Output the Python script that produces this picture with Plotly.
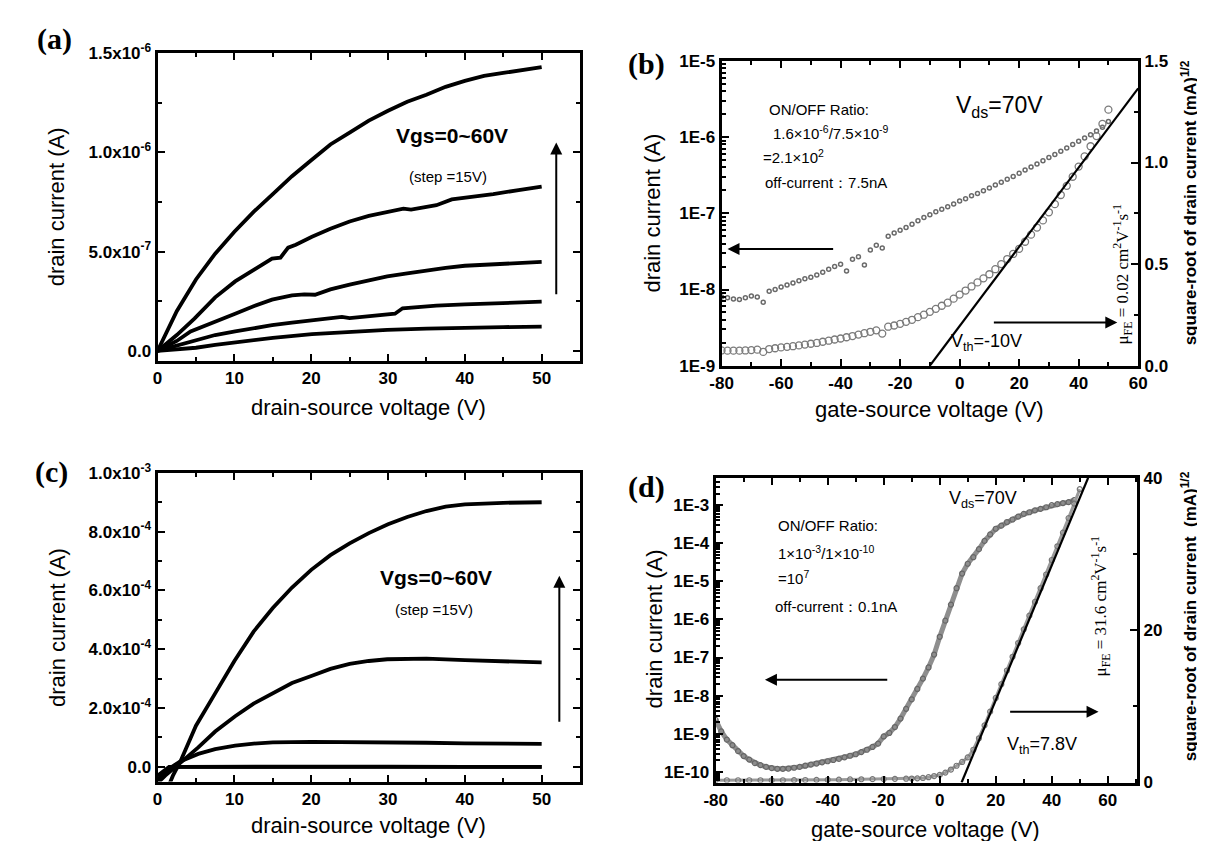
import plotly.graph_objects as go

# ---------------- Panel (a): output curves, Vgs = 0..60 V ----------------
a60_x = [0, 1, 2.5, 5, 7.5, 10, 12.5, 15, 17.5, 20, 22.5, 25, 27.5, 30, 32.5, 35, 37.5, 40, 42.5, 45, 47.5, 50]
a60_y = [0, 0.08e-6, 0.2e-6, 0.36e-6, 0.49e-6, 0.60e-6, 0.70e-6, 0.79e-6, 0.88e-6, 0.96e-6, 1.04e-6, 1.10e-6,
         1.16e-6, 1.21e-6, 1.255e-6, 1.29e-6, 1.33e-6, 1.36e-6, 1.385e-6, 1.40e-6, 1.415e-6, 1.43e-6]
a45_x = [0, 2.5, 4.8, 7.5, 10.1, 12.5, 14.9, 16, 17, 18, 20.1, 22.5, 25, 27.5, 29.9, 32, 33, 34, 36.3, 38.3, 40, 43.7, 47, 50]
a45_y = [0, 0.08e-6, 0.163e-6, 0.27e-6, 0.35e-6, 0.41e-6, 0.465e-6, 0.47e-6, 0.52e-6, 0.535e-6, 0.575e-6, 0.615e-6,
         0.652e-6, 0.68e-6, 0.70e-6, 0.717e-6, 0.712e-6, 0.72e-6, 0.734e-6, 0.763e-6, 0.77e-6, 0.79e-6, 0.81e-6, 0.828e-6]
a30_x = [0, 2.5, 4.3, 7.5, 10.1, 12.5, 14.9, 17.5, 19.1, 20.5, 22.5, 25, 27.5, 29.9, 32.5, 34.8, 37.5, 40, 45, 50]
a30_y = [0, 0.05e-6, 0.098e-6, 0.15e-6, 0.1875e-6, 0.225e-6, 0.258e-6, 0.28e-6, 0.285e-6, 0.283e-6, 0.31e-6,
         0.334e-6, 0.355e-6, 0.375e-6, 0.39e-6, 0.404e-6, 0.418e-6, 0.429e-6, 0.44e-6, 0.448e-6]
a15_x = [0, 2.5, 4.8, 7.5, 10.1, 12.5, 14.9, 17.5, 20.1, 22.5, 24, 25, 27.5, 30.9, 31.9, 34, 36.3, 40, 43.7, 47, 50]
a15_y = [0, 0.025e-6, 0.052e-6, 0.08e-6, 0.098e-6, 0.115e-6, 0.13e-6, 0.143e-6, 0.155e-6, 0.165e-6, 0.171e-6,
         0.165e-6, 0.175e-6, 0.1875e-6, 0.215e-6, 0.222e-6, 0.228e-6, 0.234e-6, 0.24e-6, 0.244e-6, 0.248e-6]
a0_x = [0, 2.5, 5, 7.5, 10.1, 15, 20.1, 25, 29.9, 35, 40, 45, 50]
a0_y = [0, 0.008e-6, 0.016e-6, 0.03e-6, 0.044e-6, 0.066e-6, 0.085e-6, 0.097e-6, 0.106e-6, 0.112e-6, 0.117e-6,
        0.12e-6, 0.122e-6]
a_ytickvals = [0, 5e-7, 1e-6, 1.5e-6]
a_yticktext = ["0.0", "5.0x10<sup>-7</sup>", "1.0x10<sup>-6</sup>", "1.5x10<sup>-6</sup>"]
vd_tickvals = [0, 10, 20, 30, 40, 50]

# ---------------- Panel (b): transfer curve, Vds = 70 V ----------------
b_x = [-80, -78, -76, -74, -72, -70, -68, -66, -64, -62, -60, -58, -56, -54, -52, -50, -48, -46, -44, -42,
       -40, -38, -36, -34, -32, -30, -28, -26, -24, -22, -20, -18, -16, -14, -12, -10, -8, -6, -4, -2,
       0, 2, 4, 6, 8, 10, 12, 14, 16, 18, 20, 22, 24, 26, 28, 30, 32, 34, 36, 38, 40, 42, 44, 46, 48, 50]
b_id = [8.0e-9, 7.8e-9, 7.5e-9, 7.4e-9, 7.8e-9, 8.2e-9, 8.0e-9, 6.8e-9, 9.5e-9, 1.0e-8, 1.08e-8, 1.15e-8,
        1.22e-8, 1.3e-8, 1.38e-8, 1.45e-8, 1.55e-8, 1.68e-8, 1.85e-8, 2.0e-8, 2.15e-8, 1.75e-8, 2.5e-8,
        2.7e-8, 2.1e-8, 3.3e-8, 3.8e-8, 3.5e-8, 5.0e-8, 5.5e-8, 6.0e-8, 6.5e-8, 7.2e-8, 8.0e-8, 8.8e-8,
        9.6e-8, 1.05e-7, 1.13e-7, 1.22e-7, 1.32e-7, 1.45e-7, 1.55e-7, 1.7e-7, 1.82e-7, 1.98e-7, 2.15e-7,
        2.35e-7, 2.55e-7, 2.8e-7, 3.05e-7, 3.35e-7, 3.7e-7, 4.05e-7, 4.45e-7, 4.9e-7, 5.4e-7, 5.9e-7,
        6.5e-7, 7.2e-7, 8.0e-7, 8.8e-7, 9.7e-7, 1.07e-6, 1.2e-6, 1.35e-6, 1.6e-6]
b_sqrt = [0.075, 0.074, 0.074, 0.074, 0.075, 0.077, 0.079, 0.068, 0.082, 0.086, 0.09, 0.093, 0.096, 0.1,
          0.104, 0.108, 0.112, 0.118, 0.123, 0.129, 0.134, 0.14, 0.146, 0.153, 0.16, 0.167, 0.174, 0.158,
          0.192, 0.198, 0.206, 0.216, 0.226, 0.239, 0.251, 0.265, 0.28, 0.295, 0.31, 0.33, 0.35, 0.37, 0.39,
          0.41, 0.43, 0.45, 0.475, 0.50, 0.525, 0.55, 0.575, 0.61, 0.645, 0.68, 0.715, 0.755, 0.795, 0.84,
          0.885, 0.93, 0.98, 1.03, 1.08, 1.13, 1.19, 1.26]
b_fit_x = [-10, 60]
b_fit_y = [0, 1.365]
vg_tickvals = [-80, -60, -40, -20, 0, 20, 40, 60]
vg_ticktext = ["-80", "-60", "-40", "-20", "0", "20", "40", "60"]

# ---------------- Panel (c): output curves ----------------
c60_x = [1.2, 2.0, 3.0, 5.0, 7.5, 10, 12.5, 15, 17.5, 20, 22.5, 25, 27.5, 30, 32.5, 35, 37.5, 40, 45, 50]
c60_y = [-0.8e-4, -0.3e-4, 0.2e-4, 1.4e-4, 2.5e-4, 3.6e-4, 4.6e-4, 5.4e-4, 6.1e-4, 6.7e-4, 7.2e-4, 7.6e-4,
         7.95e-4, 8.25e-4, 8.5e-4, 8.7e-4, 8.85e-4, 8.93e-4, 8.98e-4, 9.0e-4]
c45_x = [0, 1.0, 2.85, 5.3, 7.5, 10.1, 12.5, 14.9, 17.5, 20.1, 22.5, 25, 27.5, 29.9, 35, 40, 45, 50]
c45_y = [-0.55e-4, -0.3e-4, 0.11e-4, 0.66e-4, 1.2e-4, 1.72e-4, 2.15e-4, 2.5e-4, 2.85e-4, 3.1e-4, 3.33e-4,
         3.5e-4, 3.6e-4, 3.66e-4, 3.68e-4, 3.63e-4, 3.58e-4, 3.55e-4]
c30_x = [0, 1.0, 2.85, 5.3, 7.5, 10.1, 12.5, 15, 20, 25, 30, 35, 40, 45, 50]
c30_y = [-0.45e-4, -0.15e-4, 0.17e-4, 0.44e-4, 0.6e-4, 0.72e-4, 0.79e-4, 0.83e-4, 0.85e-4, 0.85e-4, 0.83e-4,
         0.82e-4, 0.8e-4, 0.79e-4, 0.78e-4]
c15_x = [0.3, 1.5, 3, 10, 20, 30, 40, 50]
c15_y = [-0.45e-4, -0.05e-4, 0.0, 0.01e-4, 0.01e-4, 0.01e-4, 0.0, 0.0]
c0_x = [0, 1.5, 3, 50]
c0_y = [-0.3e-4, 0.0, 0.0, 0.0]
c_ytickvals = [0, 2e-4, 4e-4, 6e-4, 8e-4, 1e-3]
c_yticktext = ["0.0", "2.0x10<sup>-4</sup>", "4.0x10<sup>-4</sup>", "6.0x10<sup>-4</sup>",
               "8.0x10<sup>-4</sup>", "1.0x10<sup>-3</sup>"]

# ---------------- Panel (d): transfer curve ----------------
d_x = [-80, -78, -76, -74, -72, -70, -68, -66, -64, -62, -60, -58, -56, -54, -52, -50, -48, -46, -44, -42,
       -40, -38, -36, -34, -32, -30, -28, -26, -24, -22, -20, -18, -16, -14, -12, -10, -8, -6, -4, -2,
       0, 2, 4, 6, 8, 10, 12, 14, 16, 18, 20, 22, 24, 26, 28, 30, 32, 34, 36, 38, 40, 42, 44, 46, 48]
d_id = [2.3e-9, 1.15e-9, 7e-10, 5e-10, 3.5e-10, 2.6e-10, 2.1e-10, 1.7e-10, 1.5e-10, 1.35e-10, 1.25e-10,
        1.2e-10, 1.2e-10, 1.22e-10, 1.28e-10, 1.35e-10, 1.45e-10, 1.55e-10, 1.65e-10, 1.78e-10, 1.9e-10,
        2.05e-10, 2.2e-10, 2.4e-10, 2.65e-10, 2.9e-10, 3.3e-10, 3.8e-10, 4.5e-10, 5.5e-10, 8.5e-10,
        1.05e-9, 1.5e-9, 2.5e-9, 4.5e-9, 8e-9, 1.5e-8, 2.8e-8, 5.5e-8, 1.2e-7, 3.5e-7, 9.3e-7, 2.45e-6,
        6.6e-6, 1.6e-5, 2.9e-5, 4.3e-5, 7e-5, 1.15e-4, 1.7e-4, 2.4e-4, 2.9e-4, 3.6e-4, 4.2e-4, 5.0e-4,
        5.9e-4, 6.5e-4, 7.3e-4, 8.0e-4, 8.8e-4, 1.0e-3, 1.06e-3, 1.13e-3, 1.2e-3, 1.35e-3]
d_sx = [-80, -76, -72, -68, -64, -60, -56, -52, -48, -44, -40, -36, -32, -28, -24, -20, -16, -12, -10, -8,
        -6, -4, -2, 0, 2, 4, 6, 8, 10, 12, 14, 16, 18, 20, 22, 24, 26, 28, 30, 32, 34, 36, 38, 40, 42, 44,
        46, 48, 50]
d_sqrt = [0.3, 0.3, 0.3, 0.3, 0.3, 0.3, 0.3, 0.32, 0.33, 0.35, 0.36, 0.38, 0.4, 0.42, 0.44, 0.46, 0.48, 0.5,
          0.52, 0.55, 0.6, 0.7, 0.85, 1.0, 1.3, 1.7, 2.2, 2.7, 3.3, 4.3, 5.8, 7.5, 9.3, 11.1, 12.9, 14.7,
          16.5, 18.3, 20.1, 21.9, 23.7, 25.5, 27.3, 29.2, 31.0, 32.8, 34.7, 36.6, 38.5]
d_fit_x = [7.8, 53]
d_fit_y = [0, 40]

# ---------------- figure ----------------
W, H = 1205, 841
FONT = "Liberation Sans, Arial, sans-serif"
SERIF = "Liberation Serif, Times New Roman, serif"


def dx(p):
    return p / W


def dy(p):
    return 1 - p / H


fig = go.Figure()

line_style = dict(color="black", width=3.8)
for xs, ys in [(a0_x, a0_y), (a15_x, a15_y), (a30_x, a30_y), (a45_x, a45_y), (a60_x, a60_y)]:
    fig.add_trace(go.Scatter(x=xs, y=ys, mode="lines", line=line_style, xaxis="x", yaxis="y"))

fig.add_trace(go.Scatter(x=b_x, y=b_id, mode="markers", xaxis="x2", yaxis="y2",
                         marker=dict(symbol="circle-open", size=4, color="#6a6a6a", line=dict(width=1.5))))
fig.add_trace(go.Scatter(x=b_x, y=b_sqrt, mode="markers", xaxis="x2", yaxis="y3",
                         marker=dict(symbol="circle-open", size=7, color="#7a7a7a", line=dict(width=1.3))))
fig.add_trace(go.Scatter(x=b_fit_x, y=b_fit_y, mode="lines", xaxis="x2", yaxis="y3",
                         line=dict(color="black", width=2.2)))

for xs, ys in [(c0_x, c0_y), (c15_x, c15_y), (c30_x, c30_y), (c45_x, c45_y), (c60_x, c60_y)]:
    fig.add_trace(go.Scatter(x=xs, y=ys, mode="lines", line=line_style, xaxis="x3", yaxis="y4"))

fig.add_trace(go.Scatter(x=d_x, y=d_id, mode="lines+markers", xaxis="x4", yaxis="y5",
                         line=dict(color="#8e8e8e", width=5),
                         marker=dict(symbol="circle-open", size=5, color="#666666", line=dict(width=1.2))))
fig.add_trace(go.Scatter(x=d_sx, y=d_sqrt, mode="lines+markers", xaxis="x4", yaxis="y6",
                         line=dict(color="#9a9a9a", width=3),
                         marker=dict(symbol="circle-open", size=5, color="#777777", line=dict(width=1.2))))
fig.add_trace(go.Scatter(x=d_fit_x, y=d_fit_y, mode="lines", xaxis="x4", yaxis="y6",
                         line=dict(color="black", width=2.2)))

tickfont = dict(family=FONT, size=17, color="black", weight="bold")
base = dict(showline=True, linecolor="black", linewidth=3, ticks="inside", ticklen=7, tickwidth=2,
            tickcolor="black", showgrid=False, zeroline=False, tickfont=tickfont)
mn = dict(ticks="inside", ticklen=4, tickwidth=2, tickcolor="black")


def ax(**kw):
    d = dict(base)
    d.update(kw)
    return d


def minor(**kw):
    d = dict(mn)
    d.update(kw)
    return d


fig.update_layout(
    width=W, height=H, margin=dict(l=0, r=0, t=0, b=0), showlegend=False,
    paper_bgcolor="white", plot_bgcolor="white",
    xaxis=ax(domain=[dx(140), dx(570)], anchor="y", range=[0, 55], tickvals=vd_tickvals,
             mirror="ticks", minor=minor(dtick=5, tick0=0)),
    yaxis=ax(domain=[dy(350), dy(34)], anchor="x", range=[-5e-8, 1.5e-6], tickvals=a_ytickvals,
             ticktext=a_yticktext, mirror="ticks", minor=minor(dtick=2.5e-7, tick0=0)),
    xaxis2=ax(domain=[dx(714), dx(1138)], anchor="y2", range=[-80, 60],
              tickvals=vg_tickvals, ticktext=vg_ticktext, mirror="ticks", minor=minor(dtick=10, tick0=0)),
    yaxis2=ax(domain=[dy(355), dy(42)], anchor="x2", type="log", range=[-9, -5],
              tickvals=[1e-9, 1e-8, 1e-7, 1e-6, 1e-5], ticktext=["1E-9", "1E-8", "1E-7", "1E-6", "1E-5"],
              minor=minor(dtick="D1", tickwidth=1.5)),
    yaxis3=ax(domain=[dy(355), dy(42)], anchor="x2", overlaying="y2", side="right", range=[0, 1.5],
              tickvals=[0, 0.5, 1.0, 1.5], ticktext=["0.0", "0.5", "1.0", "1.5"],
              minor=minor(dtick=0.25, tick0=0)),
    xaxis3=ax(domain=[dx(140), dx(570)], anchor="y4", range=[0, 55], tickvals=vd_tickvals,
              mirror="ticks", minor=minor(dtick=5, tick0=0)),
    yaxis4=ax(domain=[dy(782), dy(465)], anchor="x3", range=[-5e-5, 1e-3], tickvals=c_ytickvals,
              ticktext=c_yticktext, mirror="ticks", minor=minor(dtick=1e-4, tick0=0)),
    xaxis4=ax(domain=[dx(708), dx(1137)], anchor="y5", range=[-80, 70.5],
              tickvals=vg_tickvals, ticktext=vg_ticktext, mirror="ticks", minor=minor(dtick=10, tick0=0)),
    yaxis5=ax(domain=[dy(783), dy(470)], anchor="x4", type="log", range=[-10.28, -2.28],
              tickvals=[1e-10, 1e-9, 1e-8, 1e-7, 1e-6, 1e-5, 1e-4, 1e-3],
              ticktext=["1E-10", "1E-9", "1E-8", "1E-7", "1E-6", "1E-5", "1E-4", "1E-3"],
              minor=minor(dtick="D1", tickwidth=1.5)),
    yaxis6=ax(domain=[dy(783), dy(470)], anchor="x4", overlaying="y5", side="right", range=[0, 40],
              tickvals=[0, 20, 40], minor=minor(dtick=10, tick0=0)),
)

ann = []


def txt(x, y, text, size, xref="paper", yref="paper", xanchor="center", yanchor="middle", angle=0,
        family=FONT, weight="normal"):
    ann.append(dict(x=x, y=y, xref=xref, yref=yref, text=text, showarrow=False, xanchor=xanchor,
                    yanchor=yanchor, textangle=angle,
                    font=dict(family=family, size=size, color="black", weight=weight)))


def arrow(x, y, axv, ayv, xref, yref, width=2):
    ann.append(dict(x=x, y=y, ax=axv, ay=ayv, xref=xref, yref=yref, axref=xref, ayref=yref,
                    showarrow=True, arrowhead=2, arrowsize=1.2, arrowwidth=width, arrowcolor="black", text=""))


# panel labels
txt(dx(35), dy(20), "(a)", 30, family=SERIF, weight="bold")
txt(dx(638), dy(45), "(b)", 30, family=SERIF, weight="bold")
txt(dx(32), dy(464), "(c)", 30, family=SERIF, weight="bold")
txt(dx(638), dy(480), "(d)", 30, family=SERIF, weight="bold")

# axis titles
txt(dx(38), dy(192), "drain current (A)", 22, angle=-90)
txt(dx(355), dy(398), "drain-source voltage (V)", 22)
txt(dx(644), dy(198), "drain current (A)", 22, angle=-90)
txt(dx(926), dy(400), "gate-source voltage (V)", 22)
txt(dx(1190), dy(188), "square-root of drain current (mA)<sup>1/2</sup>", 17, angle=-90, weight="bold")
txt(dx(38), dy(624), "drain current (A)", 22, angle=-90)
txt(dx(355), dy(827), "drain-source voltage (V)", 22)
txt(dx(646), dy(625), "drain current (A)", 22, angle=-90)
txt(dx(922), dy(831), "gate-source voltage (V)", 22)
txt(dx(1190), dy(612), "square-root of drain current  (mA)<sup>1/2</sup>", 17, angle=-90, weight="bold")

# panel (a) notes
txt(38.3, 1.085e-6, "Vgs=0~60V", 21, xref="x", yref="y", weight="bold")
txt(37.8, 0.88e-6, "(step =15V)", 15, xref="x", yref="y")
arrow(51.9, 1.05e-6, 51.9, 0.278e-6, "x", "y")

# panel (b) notes
txt(0.109, 0.84, "ON/OFF Ratio:", 15, xref="x2 domain", yref="y2 domain", xanchor="left")
txt(0.118, 0.766, "1.6×10<sup>-6</sup>/7.5×10<sup>-9</sup>", 15, xref="x2 domain", yref="y2 domain", xanchor="left")
txt(0.095, 0.687, "=2.1×10<sup>2</sup>", 15, xref="x2 domain", yref="y2 domain", xanchor="left")
txt(0.10, 0.60, "off-current：7.5nA", 15, xref="x2 domain", yref="y2 domain", xanchor="left")
txt(0.557, 0.85, "V<sub>ds</sub>=70V", 23, xref="x2 domain", yref="y2 domain", xanchor="left")
txt(0.547, 0.075, "V<sub>th</sub>=-10V", 18, xref="x2 domain", yref="y2 domain", xanchor="left")
txt(0.962, 0.30, "μ<sub>FE</sub> = 0.02 cm<sup>2</sup>V<sup>-1</sup>s<sup>-1</sup>", 17,
    xref="x2 domain", yref="y2 domain", angle=-90, family=SERIF)
arrow(-78, 0.574, -42, 0.574, "x2", "y3")
arrow(53, 0.213, 11, 0.213, "x2", "y3")

# panel (c) notes
txt(36.3, 6.45e-4, "Vgs=0~60V", 21, xref="x3", yref="y4", weight="bold")
txt(36.0, 5.35e-4, "(step =15V)", 15, xref="x3", yref="y4")
arrow(52.3, 6.5e-4, 52.3, 1.48e-4, "x3", "y4")

# panel (d) notes
txt(2.5, 0.93, "V<sub>ds</sub>=70V", 18, xref="x4", yref="y5 domain", xanchor="left")
txt(-58.3, 0.842, "ON/OFF Ratio:", 15, xref="x4", yref="y5 domain", xanchor="left")
txt(-58.3, 0.753, "1×10<sup>-3</sup>/1×10<sup>-10</sup>", 15, xref="x4", yref="y5 domain", xanchor="left")
txt(-58.3, 0.674, "=10<sup>7</sup>", 15, xref="x4", yref="y5 domain", xanchor="left")
txt(-59.4, 0.579, "off-current：0.1nA", 15, xref="x4", yref="y5 domain", xanchor="left")
txt(23.2, 0.12, "V<sub>th</sub>=7.8V", 18, xref="x4", yref="y5 domain", xanchor="left")
txt(57.5, 0.58, "μ<sub>FE</sub> = 31.6 cm<sup>2</sup>V<sup>-1</sup>s<sup>-1</sup>", 17,
    xref="x4", yref="y5 domain", angle=-90, family=SERIF)
arrow(-62.4, 13.5, -18.2, 13.5, "x4", "y6")
arrow(56.7, 9.3, 24.6, 9.3, "x4", "y6")

fig.update_layout(annotations=ann)
fig.write_html("out.html")
